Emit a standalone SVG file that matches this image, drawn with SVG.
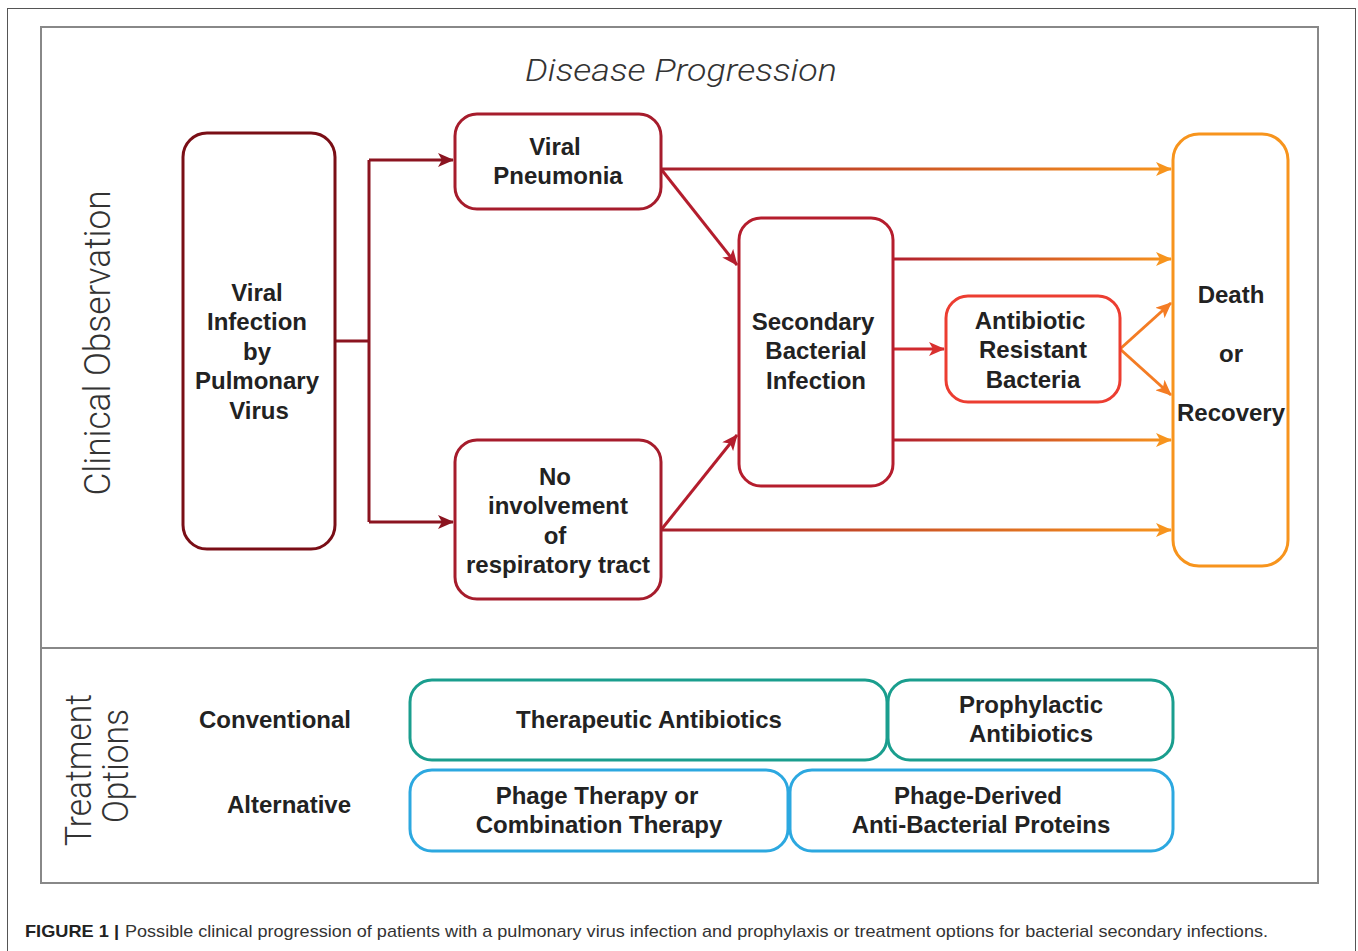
<svg xmlns="http://www.w3.org/2000/svg" width="1358" height="951" viewBox="0 0 1358 951">
<style>
.box{fill:#fff;stroke-width:3}
.lbl{font-family:"Liberation Sans",Arial,sans-serif;font-weight:bold;font-size:24px;fill:#222;text-anchor:middle}
.lt{font-family:Roboto,"Liberation Sans",sans-serif;font-weight:300;fill:#333}
.ln{fill:none;stroke-width:3}
</style>
<defs>
<linearGradient id="g1" gradientUnits="userSpaceOnUse" x1="661" y1="0" x2="1171" y2="0"><stop offset="0" stop-color="#a61c2c"/><stop offset="1" stop-color="#f7941d"/></linearGradient>
<linearGradient id="g2" gradientUnits="userSpaceOnUse" x1="893" y1="0" x2="1171" y2="0"><stop offset="0" stop-color="#b11e2e"/><stop offset="1" stop-color="#f7941d"/></linearGradient>
<marker id="aDark" markerUnits="userSpaceOnUse" markerWidth="17" markerHeight="14" refX="15" refY="7" orient="auto"><path d="M0,0 L16,7 L0,14 L4,7 z" fill="#8b1420"/></marker>
<marker id="aRed" markerUnits="userSpaceOnUse" markerWidth="17" markerHeight="14" refX="15" refY="7" orient="auto"><path d="M0,0 L16,7 L0,14 L4,7 z" fill="#b41d2d"/></marker>
<marker id="aRed2" markerUnits="userSpaceOnUse" markerWidth="17" markerHeight="14" refX="15" refY="7" orient="auto"><path d="M0,0 L16,7 L0,14 L4,7 z" fill="#d9302f"/></marker>
<marker id="aOr" markerUnits="userSpaceOnUse" markerWidth="17" markerHeight="14" refX="15" refY="7" orient="auto"><path d="M0,0 L16,7 L0,14 L4,7 z" fill="#f7941d"/></marker>
<marker id="aOr2" markerUnits="userSpaceOnUse" markerWidth="17" markerHeight="14" refX="15" refY="7" orient="auto"><path d="M0,0 L16,7 L0,14 L4,7 z" fill="#f47c24"/></marker>
</defs>
<rect width="1358" height="951" fill="#fff"/>
<rect x="7.5" y="8.5" width="1348" height="960" fill="none" stroke="#555" stroke-width="1"/>
<rect x="41" y="27" width="1277" height="856" fill="none" stroke="#888" stroke-width="2"/>
<line x1="41" y1="648" x2="1318" y2="648" stroke="#888" stroke-width="2"/>

<text class="lt" x="681" y="81" font-size="32" font-style="italic" text-anchor="middle" textLength="312" lengthAdjust="spacingAndGlyphs">Disease Progression</text>
<text class="lt" transform="translate(110,343) rotate(-90)" font-size="36" text-anchor="middle" textLength="305" lengthAdjust="spacingAndGlyphs">Clinical Observation</text>
<text class="lt" transform="translate(91,770) rotate(-90)" font-size="36" text-anchor="middle" textLength="152" lengthAdjust="spacingAndGlyphs">Treatment</text>
<text class="lt" transform="translate(128,766) rotate(-90)" font-size="36" text-anchor="middle" textLength="114" lengthAdjust="spacingAndGlyphs">Options</text>

<g id="connectors">
<path class="ln" d="M335,341 H369 M369,160 V522" stroke="#8b1420"/>
<path class="ln" d="M369,160 H453" stroke="#8b1420" marker-end="url(#aDark)"/>
<path class="ln" d="M369,522 H453" stroke="#8b1420" marker-end="url(#aDark)"/>
<path class="ln" d="M661,169 L737,265" stroke="#b41d2d" marker-end="url(#aRed)"/>
<path class="ln" d="M661,530 L737,435" stroke="#b41d2d" marker-end="url(#aRed)"/>
<path class="ln" d="M661,169 H1171" stroke="url(#g1)" marker-end="url(#aOr)"/>
<path class="ln" d="M661,530 H1171" stroke="url(#g1)" marker-end="url(#aOr)"/>
<path class="ln" d="M893,259 H1171" stroke="url(#g2)" marker-end="url(#aOr)"/>
<path class="ln" d="M893,440 H1171" stroke="url(#g2)" marker-end="url(#aOr)"/>
<path class="ln" d="M893,349 H944" stroke="#d02a2f" marker-end="url(#aRed2)"/>
<path class="ln" d="M1120,349 L1171,303" stroke="#f47c24" marker-end="url(#aOr2)"/>
<path class="ln" d="M1120,349 L1171,395" stroke="#f47c24" marker-end="url(#aOr2)"/>
</g>

<g id="viral-infection">
<rect class="box" x="183" y="133" width="152" height="416" rx="24" stroke="#7a0e16"/>
<text class="lbl" x="257" y="301">Viral</text>
<text class="lbl" x="257" y="330">Infection</text>
<text class="lbl" x="257" y="360">by</text>
<text class="lbl" x="257" y="389">Pulmonary</text>
<text class="lbl" x="259" y="419">Virus</text>
</g>
<g id="viral-pneumonia">
<rect class="box" x="455" y="114" width="206" height="95" rx="22" stroke="#a61c2c"/>
<text class="lbl" x="555" y="155">Viral</text>
<text class="lbl" x="558" y="184">Pneumonia</text>
</g>
<g id="no-involvement">
<rect class="box" x="455" y="440" width="206" height="159" rx="22" stroke="#a61c2c"/>
<text class="lbl" x="555" y="485">No</text>
<text class="lbl" x="558" y="514">involvement</text>
<text class="lbl" x="555" y="544">of</text>
<text class="lbl" x="558" y="573">respiratory tract</text>
</g>
<g id="secondary">
<rect class="box" x="739" y="218" width="154" height="268" rx="22" stroke="#b51d2d"/>
<text class="lbl" x="813" y="330">Secondary</text>
<text class="lbl" x="816" y="359">Bacterial</text>
<text class="lbl" x="816" y="389">Infection</text>
</g>
<g id="antibiotic-resistant">
<rect class="box" x="946" y="296" width="174" height="106" rx="22" stroke="#ec3d31"/>
<text class="lbl" x="1030" y="329">Antibiotic</text>
<text class="lbl" x="1033" y="358">Resistant</text>
<text class="lbl" x="1033" y="388">Bacteria</text>
</g>
<g id="death-recovery">
<rect class="box" x="1173" y="134" width="115" height="432" rx="26" stroke="#f7941d"/>
<text class="lbl" x="1231" y="303">Death</text>
<text class="lbl" x="1231" y="362">or</text>
<text class="lbl" x="1231" y="421">Recovery</text>
</g>

<g id="row-labels">
<text class="lbl" x="351" y="728" style="text-anchor:end">Conventional</text>
<text class="lbl" x="351" y="813" style="text-anchor:end">Alternative</text>
</g>
<g id="therapeutic-antibiotics">
<rect class="box" x="410" y="680" width="477" height="80" rx="22" stroke="#1a9e8e"/>
<text class="lbl" x="649" y="728">Therapeutic Antibiotics</text>
</g>
<g id="prophylactic-antibiotics">
<rect class="box" x="888" y="680" width="285" height="80" rx="22" stroke="#1a9e8e"/>
<text class="lbl" x="1031" y="713">Prophylactic</text>
<text class="lbl" x="1031" y="742">Antibiotics</text>
</g>
<g id="phage-therapy">
<rect class="box" x="410" y="770" width="378" height="81" rx="22" stroke="#2ca8e0"/>
<text class="lbl" x="597" y="804">Phage Therapy or</text>
<text class="lbl" x="599" y="833">Combination Therapy</text>
</g>
<g id="phage-derived">
<rect class="box" x="790" y="770" width="383" height="81" rx="22" stroke="#2ca8e0"/>
<text class="lbl" x="978" y="804">Phage-Derived</text>
<text class="lbl" x="981" y="833">Anti-Bacterial Proteins</text>
</g>

<text x="25" y="937" font-family="'Liberation Sans',Arial,sans-serif" font-size="17" font-weight="bold" fill="#222" textLength="94" lengthAdjust="spacingAndGlyphs">FIGURE 1 |</text>
<text x="125" y="937" font-family="'Liberation Sans',Arial,sans-serif" font-size="17" fill="#333" textLength="1143" lengthAdjust="spacingAndGlyphs">Possible clinical progression of patients with a pulmonary virus infection and prophylaxis or treatment options for bacterial secondary infections.</text>
</svg>
